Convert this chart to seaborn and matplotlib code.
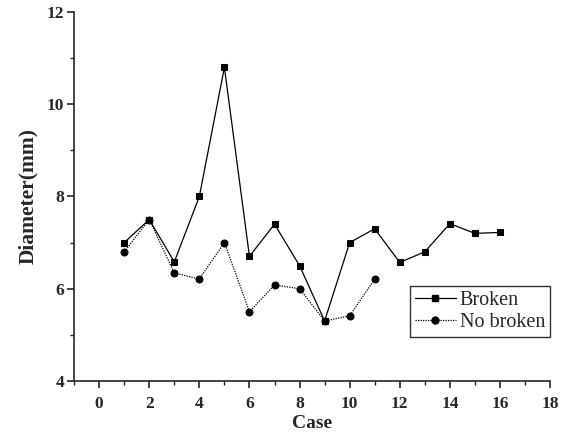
import matplotlib
matplotlib.use("Agg")
import matplotlib.pyplot as plt
import seaborn as sns
import pandas as pd
from matplotlib.ticker import MultipleLocator
from matplotlib.lines import Line2D

broken_case = [1, 2, 3, 4, 5, 6, 7, 8, 9, 10, 11, 12, 13, 14, 15, 16]
broken_diam = [7.0, 7.5, 6.58, 8.0, 10.8, 6.7, 7.4, 6.5, 5.3, 7.0, 7.3, 6.57, 6.8, 7.41, 7.2, 7.22]
nobroken_case = [1, 2, 3, 4, 5, 6, 7, 8, 9, 10, 11]
nobroken_diam = [6.8, 7.5, 6.34, 6.21, 7.0, 5.5, 6.08, 6.0, 5.3, 5.41, 6.21]
groups = ["Broken", "No broken"]

df = pd.concat([
    pd.DataFrame({"Case": broken_case, "Diameter": broken_diam, "group": groups[0]}),
    pd.DataFrame({"Case": nobroken_case, "Diameter": nobroken_diam, "group": groups[1]}),
])

sns.set_style("ticks")
plt.rcParams['font.family'] = ['Liberation Serif', 'DejaVu Serif']

fig = plt.figure(figsize=(5.7, 4.45), dpi=100)
ax = fig.add_axes([0.130, 0.144, 0.835, 0.829])

sns.lineplot(data=df, x="Case", y="Diameter", hue="group", style="group",
             palette={"Broken": "black", "No broken": "black"},
             markers={"Broken": "s", "No broken": "o"},
             dashes={"Broken": "", "No broken": (1, 1)},
             markersize=5, linewidth=0.9, markeredgecolor="black",
             ax=ax, legend=False)

handles = [Line2D([], [], color="black", marker="s", markersize=5, linewidth=0.9, linestyle="-"),
           Line2D([], [], color="black", marker="o", markersize=5, linewidth=0.9, linestyle=(0, (1, 1)))]
leg = ax.legend(handles, groups, loc="lower right", bbox_to_anchor=(1.0, 0.118),
                frameon=True, fancybox=False, edgecolor="black", fontsize=14.5,
                handlelength=2.0, handletextpad=0.2, borderpad=0.25, labelspacing=0.15,
                borderaxespad=0)
leg.get_frame().set_linewidth(1.0)

ax.set_xlim(-1, 18)
ax.set_ylim(4, 12)
ax.xaxis.set_major_locator(MultipleLocator(2))
ax.xaxis.set_minor_locator(MultipleLocator(1))
ax.yaxis.set_major_locator(MultipleLocator(2))
ax.yaxis.set_minor_locator(MultipleLocator(1))
ax.tick_params(which="major", direction="out", length=5, width=1.2, labelsize=12.5)
ax.tick_params(which="minor", direction="out", length=3, width=1.0)
ax.tick_params(axis="x", which="major", pad=6)
ax.tick_params(axis="y", which="major", pad=2)
for lbl in ax.get_xticklabels() + ax.get_yticklabels():
    lbl.set_fontweight("bold")
for sp in ["top", "right"]:
    ax.spines[sp].set_visible(False)
for sp in ["left", "bottom"]:
    ax.spines[sp].set_linewidth(1.2)

ax.set_xlabel("Case", fontsize=14, fontweight="bold", labelpad=2)
ax.set_ylabel("Diameter(mm)", fontsize=15.5, fontweight="bold", labelpad=6)

fig.savefig("out.png", dpi=100)
